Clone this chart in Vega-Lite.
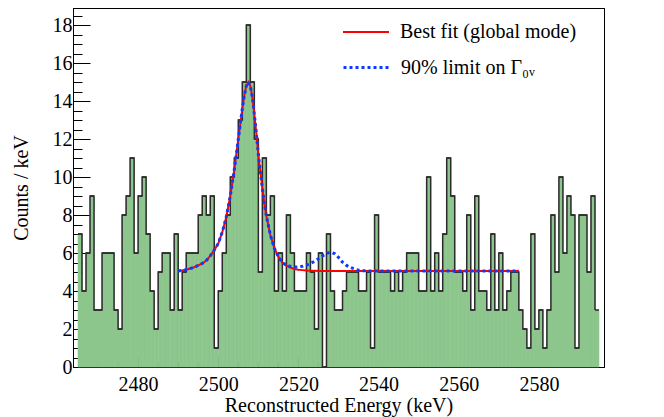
{
  "$schema": "https://vega.github.io/schema/vega-lite/v6.json",
  "width": 531,
  "height": 359,
  "autosize": {"type": "none"},
  "padding": {"left": 73, "top": 8, "right": 60, "bottom": 50},
  "background": "#ffffff",
  "config": {
    "view": {"stroke": "#000000", "strokeWidth": 1},
    "font": "Liberation Serif",
    "axis": {"grid": false, "zindex": 1, "tickColor": "#000000", "domainColor": "#000000", "labelColor": "#000000", "titleColor": "#000000", "labelFont": "Liberation Serif", "titleFont": "Liberation Serif", "labelFontSize": 20, "titleFontSize": 20, "titleFontWeight": "normal"},
    "legend": {"labelFont": "Liberation Serif", "labelFontSize": 20, "labelColor": "#000000", "labelLimit": 400}
  },
  "datasets": {
    "hist": [
      {"lo": 2465, "hi": 2466, "n": 7}, {"lo": 2466, "hi": 2467, "n": 4}, {"lo": 2467, "hi": 2468, "n": 6}, {"lo": 2468, "hi": 2469, "n": 9},
      {"lo": 2469, "hi": 2470, "n": 3}, {"lo": 2470, "hi": 2471, "n": 3}, {"lo": 2471, "hi": 2472, "n": 6}, {"lo": 2472, "hi": 2473, "n": 6},
      {"lo": 2473, "hi": 2474, "n": 6}, {"lo": 2474, "hi": 2475, "n": 3}, {"lo": 2475, "hi": 2476, "n": 2}, {"lo": 2476, "hi": 2477, "n": 8},
      {"lo": 2477, "hi": 2478, "n": 9}, {"lo": 2478, "hi": 2479, "n": 11}, {"lo": 2479, "hi": 2480, "n": 6}, {"lo": 2480, "hi": 2481, "n": 9},
      {"lo": 2481, "hi": 2482, "n": 10}, {"lo": 2482, "hi": 2483, "n": 7}, {"lo": 2483, "hi": 2484, "n": 4}, {"lo": 2484, "hi": 2485, "n": 2},
      {"lo": 2485, "hi": 2486, "n": 5}, {"lo": 2486, "hi": 2487, "n": 6}, {"lo": 2487, "hi": 2488, "n": 6}, {"lo": 2488, "hi": 2489, "n": 3},
      {"lo": 2489, "hi": 2490, "n": 7}, {"lo": 2490, "hi": 2491, "n": 3}, {"lo": 2491, "hi": 2492, "n": 5}, {"lo": 2492, "hi": 2493, "n": 6},
      {"lo": 2493, "hi": 2494, "n": 6}, {"lo": 2494, "hi": 2495, "n": 6}, {"lo": 2495, "hi": 2496, "n": 8}, {"lo": 2496, "hi": 2497, "n": 9},
      {"lo": 2497, "hi": 2498, "n": 8}, {"lo": 2498, "hi": 2499, "n": 9}, {"lo": 2499, "hi": 2500, "n": 1}, {"lo": 2500, "hi": 2501, "n": 4},
      {"lo": 2501, "hi": 2502, "n": 6}, {"lo": 2502, "hi": 2503, "n": 8}, {"lo": 2503, "hi": 2504, "n": 10}, {"lo": 2504, "hi": 2505, "n": 11},
      {"lo": 2505, "hi": 2506, "n": 13}, {"lo": 2506, "hi": 2507, "n": 15}, {"lo": 2507, "hi": 2508, "n": 18}, {"lo": 2508, "hi": 2509, "n": 15},
      {"lo": 2509, "hi": 2510, "n": 12}, {"lo": 2510, "hi": 2511, "n": 5}, {"lo": 2511, "hi": 2512, "n": 11}, {"lo": 2512, "hi": 2513, "n": 8},
      {"lo": 2513, "hi": 2514, "n": 9}, {"lo": 2514, "hi": 2515, "n": 4}, {"lo": 2515, "hi": 2516, "n": 6}, {"lo": 2516, "hi": 2517, "n": 4},
      {"lo": 2517, "hi": 2518, "n": 8}, {"lo": 2518, "hi": 2519, "n": 6}, {"lo": 2519, "hi": 2520, "n": 4}, {"lo": 2520, "hi": 2521, "n": 4},
      {"lo": 2521, "hi": 2522, "n": 4}, {"lo": 2522, "hi": 2523, "n": 6}, {"lo": 2523, "hi": 2524, "n": 5}, {"lo": 2524, "hi": 2525, "n": 2},
      {"lo": 2525, "hi": 2526, "n": 6}, {"lo": 2526, "hi": 2527, "n": 0}, {"lo": 2527, "hi": 2528, "n": 7}, {"lo": 2528, "hi": 2529, "n": 4},
      {"lo": 2529, "hi": 2530, "n": 3}, {"lo": 2530, "hi": 2531, "n": 3}, {"lo": 2531, "hi": 2532, "n": 4}, {"lo": 2532, "hi": 2533, "n": 5},
      {"lo": 2533, "hi": 2534, "n": 5}, {"lo": 2534, "hi": 2535, "n": 5}, {"lo": 2535, "hi": 2536, "n": 4}, {"lo": 2536, "hi": 2537, "n": 4},
      {"lo": 2537, "hi": 2538, "n": 5}, {"lo": 2538, "hi": 2539, "n": 1}, {"lo": 2539, "hi": 2540, "n": 8}, {"lo": 2540, "hi": 2541, "n": 5},
      {"lo": 2541, "hi": 2542, "n": 5}, {"lo": 2542, "hi": 2543, "n": 5}, {"lo": 2543, "hi": 2544, "n": 4}, {"lo": 2544, "hi": 2545, "n": 5},
      {"lo": 2545, "hi": 2546, "n": 4}, {"lo": 2546, "hi": 2547, "n": 5}, {"lo": 2547, "hi": 2548, "n": 6}, {"lo": 2548, "hi": 2549, "n": 6},
      {"lo": 2549, "hi": 2550, "n": 6}, {"lo": 2550, "hi": 2551, "n": 4}, {"lo": 2551, "hi": 2552, "n": 4}, {"lo": 2552, "hi": 2553, "n": 10},
      {"lo": 2553, "hi": 2554, "n": 4}, {"lo": 2554, "hi": 2555, "n": 6}, {"lo": 2555, "hi": 2556, "n": 4}, {"lo": 2556, "hi": 2557, "n": 7},
      {"lo": 2557, "hi": 2558, "n": 11}, {"lo": 2558, "hi": 2559, "n": 9}, {"lo": 2559, "hi": 2560, "n": 5}, {"lo": 2560, "hi": 2561, "n": 5},
      {"lo": 2561, "hi": 2562, "n": 4}, {"lo": 2562, "hi": 2563, "n": 8}, {"lo": 2563, "hi": 2564, "n": 3}, {"lo": 2564, "hi": 2565, "n": 9},
      {"lo": 2565, "hi": 2566, "n": 4}, {"lo": 2566, "hi": 2567, "n": 4}, {"lo": 2567, "hi": 2568, "n": 3}, {"lo": 2568, "hi": 2569, "n": 7},
      {"lo": 2569, "hi": 2570, "n": 3}, {"lo": 2570, "hi": 2571, "n": 6}, {"lo": 2571, "hi": 2572, "n": 3}, {"lo": 2572, "hi": 2573, "n": 4},
      {"lo": 2573, "hi": 2574, "n": 5}, {"lo": 2574, "hi": 2575, "n": 5}, {"lo": 2575, "hi": 2576, "n": 3}, {"lo": 2576, "hi": 2577, "n": 2},
      {"lo": 2577, "hi": 2578, "n": 1}, {"lo": 2578, "hi": 2579, "n": 7}, {"lo": 2579, "hi": 2580, "n": 2}, {"lo": 2580, "hi": 2581, "n": 3},
      {"lo": 2581, "hi": 2582, "n": 1}, {"lo": 2582, "hi": 2583, "n": 3}, {"lo": 2583, "hi": 2584, "n": 8}, {"lo": 2584, "hi": 2585, "n": 5},
      {"lo": 2585, "hi": 2586, "n": 10}, {"lo": 2586, "hi": 2587, "n": 6}, {"lo": 2587, "hi": 2588, "n": 9}, {"lo": 2588, "hi": 2589, "n": 8},
      {"lo": 2589, "hi": 2590, "n": 1}, {"lo": 2590, "hi": 2591, "n": 8}, {"lo": 2591, "hi": 2592, "n": 8}, {"lo": 2592, "hi": 2593, "n": 5},
      {"lo": 2593, "hi": 2594, "n": 9}, {"lo": 2594, "hi": 2595, "n": 3}
    ],
    "curves": [
      {"e": 2490, "fit": 5.05, "lim": 5.05}, {"e": 2492, "fit": 5.12, "lim": 5.12}, {"e": 2494, "fit": 5.25, "lim": 5.25},
      {"e": 2495, "fit": 5.35, "lim": 5.35}, {"e": 2496, "fit": 5.45, "lim": 5.45}, {"e": 2497, "fit": 5.6, "lim": 5.6},
      {"e": 2498, "fit": 5.85, "lim": 5.85}, {"e": 2499, "fit": 6.15, "lim": 6.15}, {"e": 2500, "fit": 6.5, "lim": 6.5},
      {"e": 2501, "fit": 7.1, "lim": 7.1}, {"e": 2502, "fit": 7.9, "lim": 7.9}, {"e": 2503, "fit": 9.0, "lim": 9.0},
      {"e": 2504, "fit": 10.4, "lim": 10.4}, {"e": 2505, "fit": 12.0, "lim": 12.0}, {"e": 2506, "fit": 13.6, "lim": 13.6},
      {"e": 2506.5, "fit": 14.3, "lim": 14.3}, {"e": 2507, "fit": 14.8, "lim": 14.8}, {"e": 2507.5, "fit": 15.0, "lim": 15.0},
      {"e": 2508, "fit": 14.8, "lim": 14.8}, {"e": 2508.5, "fit": 14.2, "lim": 14.2}, {"e": 2509, "fit": 13.3, "lim": 13.3},
      {"e": 2509.5, "fit": 12.3, "lim": 12.3}, {"e": 2510, "fit": 11.2, "lim": 11.2}, {"e": 2510.5, "fit": 10.3, "lim": 10.3},
      {"e": 2511, "fit": 9.4, "lim": 9.4}, {"e": 2511.5, "fit": 8.6, "lim": 8.6}, {"e": 2512, "fit": 7.95, "lim": 7.95},
      {"e": 2513, "fit": 6.95, "lim": 6.95}, {"e": 2514, "fit": 6.25, "lim": 6.25}, {"e": 2515, "fit": 5.8, "lim": 5.8},
      {"e": 2516, "fit": 5.5, "lim": 5.5}, {"e": 2517, "fit": 5.33, "lim": 5.36}, {"e": 2518, "fit": 5.23, "lim": 5.3},
      {"e": 2519, "fit": 5.16, "lim": 5.27}, {"e": 2520, "fit": 5.12, "lim": 5.27}, {"e": 2521, "fit": 5.1, "lim": 5.3},
      {"e": 2522, "fit": 5.08, "lim": 5.36}, {"e": 2523, "fit": 5.07, "lim": 5.45}, {"e": 2524, "fit": 5.07, "lim": 5.56},
      {"e": 2525, "fit": 5.06, "lim": 5.7}, {"e": 2526, "fit": 5.06, "lim": 5.85}, {"e": 2527, "fit": 5.06, "lim": 5.97},
      {"e": 2528, "fit": 5.05, "lim": 6.05}, {"e": 2529, "fit": 5.05, "lim": 5.97}, {"e": 2530, "fit": 5.05, "lim": 5.77},
      {"e": 2531, "fit": 5.05, "lim": 5.52}, {"e": 2532, "fit": 5.05, "lim": 5.35}, {"e": 2533, "fit": 5.05, "lim": 5.24},
      {"e": 2534, "fit": 5.05, "lim": 5.16}, {"e": 2535, "fit": 5.05, "lim": 5.1}, {"e": 2536, "fit": 5.05, "lim": 5.07},
      {"e": 2538, "fit": 5.05, "lim": 5.05}, {"e": 2545, "fit": 5.05, "lim": 5.05}, {"e": 2555, "fit": 5.05, "lim": 5.05},
      {"e": 2565, "fit": 5.05, "lim": 5.05}, {"e": 2575, "fit": 5.05, "lim": 5.05}
    ]
  },
  "layer": [
    {
      "data": {"name": "hist"},
      "mark": {"type": "bar", "fill": "#8cc68c", "stroke": "#8cc68c", "strokeWidth": 0.6, "orient": "vertical"},
      "encoding": {
        "x": {"field": "lo", "type": "quantitative", "scale": {"domain": [2465, 2595], "nice": false, "zero": false},
          "axis": {"orient": "bottom", "values": [2480, 2500, 2520, 2540, 2560, 2580], "format": "d", "labelFont": "Liberation Serif", "labelFontSize": 20, "tickSize": -10, "tickWidth": 1, "domain": true, "labelPadding": 17, "title": "Reconstructed Energy (keV)", "titleFont": "Liberation Serif", "titleFontSize": 20, "titleY": 38, "titleBaseline": "middle"}},
        "x2": {"field": "hi"},
        "y": {"field": "n", "type": "quantitative", "scale": {"domain": [0, 18.9], "nice": false},
          "axis": {"orient": "left", "values": [0, 2, 4, 6, 8, 10, 12, 14, 16, 18], "format": "d", "labelFont": "Liberation Serif", "labelFontSize": 20, "tickSize": -17, "tickWidth": 1, "domain": true, "labelPadding": 18, "title": "Counts / keV", "titleFont": "Liberation Serif", "titleFontSize": 20, "titleX": -52, "titleBaseline": "middle"}},
        "y2": {"datum": 0}
      }
    },
    {
      "data": {"name": "hist"},
      "mark": {"type": "line", "interpolate": "step-after", "stroke": "#2b2b2b", "strokeWidth": 1.5},
      "encoding": {
        "x": {"field": "lo", "type": "quantitative", "scale": {"domain": [2465, 2595], "nice": false, "zero": false},
          "axis": {"orient": "bottom", "values": [2470, 2475, 2485, 2490, 2495, 2505, 2510, 2515, 2525, 2530, 2535, 2545, 2550, 2555, 2565, 2570, 2575, 2585, 2590], "tickSize": -5, "tickWidth": 1, "labels": false, "domain": false, "title": null}},
        "y": {"field": "n", "type": "quantitative", "scale": {"domain": [0, 18.9], "nice": false},
          "axis": {"orient": "left", "values": [0.5, 1, 1.5, 2.5, 3, 3.5, 4.5, 5, 5.5, 6.5, 7, 7.5, 8.5, 9, 9.5, 10.5, 11, 11.5, 12.5, 13, 13.5, 14.5, 15, 15.5, 16.5, 17, 17.5, 18.5], "tickSize": -9, "tickWidth": 1, "labels": false, "domain": false, "title": null}}
      }
    },
    {
      "data": {"name": "hist"},
      "mark": {"type": "rule", "stroke": "#2b2b2b", "strokeWidth": 1.5},
      "encoding": {
        "x": {"field": "lo", "type": "quantitative", "scale": {"domain": [2465, 2595], "nice": false, "zero": false},
          "axis": {"orient": "top", "ticks": false, "labels": false, "domain": true, "title": null}},
        "x2": {"field": "hi"},
        "y": {"field": "n", "type": "quantitative", "scale": {"domain": [0, 18.9], "nice": false},
          "axis": {"orient": "right", "ticks": false, "labels": false, "domain": true, "title": null}}
      }
    },
    {
      "data": {"name": "curves"},
      "mark": {"type": "line", "strokeWidth": 2},
      "encoding": {
        "x": {"field": "e", "type": "quantitative", "scale": {"domain": [2465, 2595], "nice": false, "zero": false}, "axis": null},
        "y": {"field": "fit", "type": "quantitative", "scale": {"domain": [0, 18.9], "nice": false}, "axis": null},
        "stroke": {"datum": "Best fit (global mode)", "type": "nominal", "scale": {"range": ["#ff0000"]},
          "legend": {"title": null, "orient": "none", "legendX": 269, "legendY": 0, "symbolType": "stroke", "symbolSize": 2116, "symbolStrokeWidth": 2, "labelOffset": 10}}
      }
    },
    {
      "data": {"name": "curves"},
      "mark": {"type": "line", "strokeWidth": 3, "strokeDash": [3, 3]},
      "encoding": {
        "x": {"field": "e", "type": "quantitative", "scale": {"domain": [2465, 2595], "nice": false, "zero": false}, "axis": null},
        "y": {"field": "lim", "type": "quantitative", "scale": {"domain": [0, 18.9], "nice": false}, "axis": null},
        "color": {"datum": "90% limit on Γ₀ᵥ", "type": "nominal", "scale": {"range": ["#0a3cff"]},
          "legend": {"title": null, "orient": "none", "legendX": 269, "legendY": 35, "symbolType": "stroke", "symbolSize": 2116, "symbolStrokeWidth": 3, "symbolDash": [3, 3], "labelOffset": 10}}
      }
    }
  ],
  "resolve": {"axis": {"x": "independent", "y": "independent"}}
}
